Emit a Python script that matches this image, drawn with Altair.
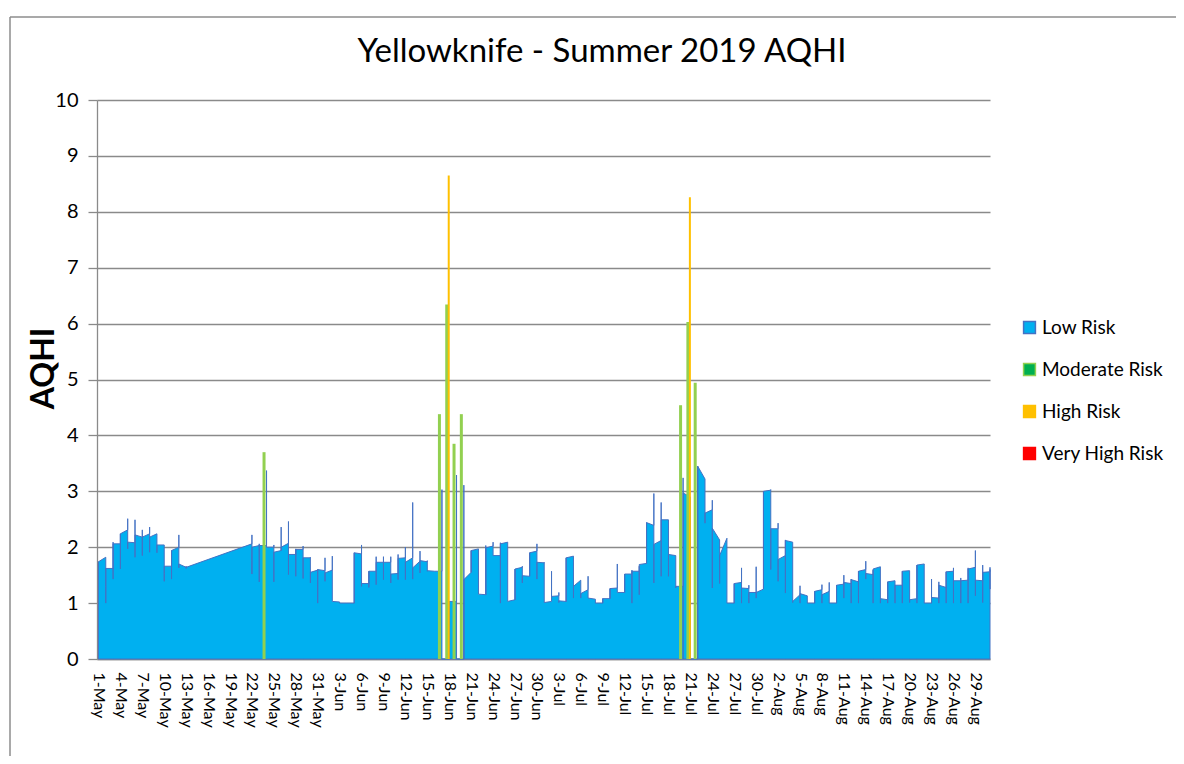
import json
import pandas as pd
import altair as alt

# ---------------- data ----------------
# x axis tick labels (every 3rd day, day 0 = 1-May-2019)
tick_labels = ["1-May", "4-May", "7-May", "10-May", "13-May", "16-May", "19-May", "22-May",
               "25-May", "28-May", "31-May", "3-Jun", "6-Jun", "9-Jun", "12-Jun", "15-Jun",
               "18-Jun", "21-Jun", "24-Jun", "27-Jun", "30-Jun", "3-Jul", "6-Jul", "9-Jul",
               "12-Jul", "15-Jul", "18-Jul", "21-Jul", "24-Jul", "27-Jul", "30-Jul", "2-Aug",
               "5-Aug", "8-Aug", "11-Aug", "14-Aug", "17-Aug", "20-Aug", "23-Aug", "26-Aug",
               "29-Aug"]
tick_days = [3 * i for i in range(len(tick_labels))]

# Low Risk series: per day (1-May .. 31-Aug) first / highest / lowest / last hourly value
N = None
low_first = [1.74, 1.82, 1.62, 2.06, 2.31, 2.08, 2.18, 2.24, 2.24, 2.04, 1.66, 2.00, 1.64,
             N, N, N, N, N, N, N, N,
             2.06, 2.03, 2.03, 2.00, 1.94, 2.07, 1.87, 1.96, 1.81, 1.59, 1.58, 1.59, 1.02,
             1.00, 1.00, 1.88, 1.35, 1.57, 1.73, 1.73, 1.53, 1.81, 1.81, 1.75, 1.74, 1.57,
             1.57, 0.00, 1.03, 0.00, 1.55, 1.97, 1.15, 2.02, 1.85, 2.09, 1.06, 1.64, 1.48,
             1.93, 1.72, 1.03, 1.13, 1.03, 1.84, 1.41, 1.24, 1.07, 1.00, 1.08, 1.27, 1.19,
             1.52, 1.57, 1.71, 2.39, 2.12, 2.49, 1.85, 1.30, 2.90, 0.00, 3.22, 2.67, 2.13,
             2.16, 1.00, 1.37, 1.26, 1.19, 1.25, 3.02, 2.33, 1.85, 2.09, 1.15, 1.13, 1.00,
             1.24, 1.21, 1.00, 1.34, 1.35, 1.38, 1.60, 1.51, 1.65, 1.06, 1.40, 1.32, 1.58,
             1.08, 1.70, 1.00, 1.09, 1.28, 1.57, 1.40, 1.41, 1.64, 1.40, 1.56]
low_high = [1.74, 1.82, 2.09, 2.24, 2.51, 2.49, 2.31, 2.36, 2.24, 2.04, 1.94, 2.22, 1.66,
            N, N, N, N, N, N, N, N,
            2.22, 2.06, 3.37, 2.04, 2.36, 2.46, 1.97, 2.02, 1.82, 1.60, 1.81, 1.84, 1.02,
            1.00, 1.90, 2.04, 1.57, 1.83, 1.83, 1.83, 1.87, 2.00, 2.80, 1.93, 1.76, 1.57,
            3.03, 1.03, 3.29, 3.11, 1.94, 1.97, 2.03, 2.09, 2.08, 2.09, 1.61, 1.66, 1.90,
            2.06, 1.73, 1.57, 1.19, 1.81, 1.84, 1.41, 1.48, 1.07, 1.08, 1.26, 1.70, 1.52,
            1.59, 1.66, 2.44, 2.96, 2.80, 2.49, 1.85, 3.24, 2.90, 3.45, 3.22, 2.84, 2.13,
            2.16, 1.35, 1.63, 1.32, 1.65, 3.00, 3.03, 2.43, 2.13, 2.09, 1.31, 1.13, 1.21,
            1.33, 1.37, 1.32, 1.50, 1.43, 1.57, 1.75, 1.59, 1.65, 1.38, 1.40, 1.57, 1.58,
            1.68, 1.70, 1.43, 1.38, 1.56, 1.63, 1.45, 1.63, 1.94, 1.68, 1.64]
low_low = [1.42, 1.00, 1.43, 1.61, 1.97, 1.82, 1.85, 1.91, 1.90, 1.39, 1.43, 1.63, 1.62,
           N, N, N, N, N, N, N, N,
           1.52, 1.38, 2.00, 1.38, 1.94, 1.51, 1.48, 1.44, 1.36, 1.00, 1.39, 1.03, 1.00,
           1.00, 1.00, 1.30, 1.28, 1.33, 1.42, 1.36, 1.42, 1.42, 1.43, 1.54, 1.57, 1.57,
           0.00, 0.00, 0.00, 0.00, 1.55, 1.16, 1.15, 1.85, 1.00, 1.03, 1.06, 1.36, 1.48,
           1.43, 1.01, 1.06, 1.01, 1.03, 1.09, 1.09, 1.09, 1.00, 1.00, 1.08, 1.19, 1.19,
           1.00, 1.15, 1.71, 1.36, 1.48, 1.48, 1.27, 0.00, 0.00, 0.00, 2.43, 1.27, 1.35,
           1.00, 1.00, 1.00, 1.00, 1.09, 1.25, 1.60, 1.39, 1.18, 1.01, 1.00, 1.00, 1.00,
           1.00, 1.00, 1.00, 1.09, 1.00, 1.00, 1.43, 1.00, 1.00, 1.00, 1.00, 1.00, 1.01,
           1.00, 1.00, 1.00, 1.00, 1.00, 1.00, 1.00, 1.00, 1.13, 1.01, 1.25]
low_last = [1.74, 1.62, 2.06, 2.24, 2.09, 2.22, 2.18, 2.18, 2.04, 1.66, 1.94, 1.70, 1.64,
            N, N, N, N, N, N, N, N,
            2.00, 2.03, 2.00, 1.91, 2.00, 1.87, 1.96, 1.81, 1.55, 1.60, 1.54, 1.03, 1.00,
            1.00, 1.90, 1.35, 1.57, 1.73, 1.73, 1.52, 1.80, 1.73, 1.63, 1.76, 1.58, 1.57,
            0.00, 1.03, 0.00, 1.42, 1.94, 1.16, 1.99, 1.85, 2.06, 1.03, 1.61, 1.49, 1.90,
            1.73, 1.01, 1.12, 1.04, 1.81, 1.30, 1.17, 1.09, 1.00, 1.08, 1.26, 1.19, 1.52,
            1.57, 1.69, 2.44, 2.05, 2.49, 1.87, 1.30, 2.97, 0.00, 3.45, 2.61, 2.34, 1.85,
            1.00, 1.35, 1.27, 1.19, 1.19, 3.00, 2.33, 1.78, 2.12, 1.03, 1.17, 1.00, 1.21,
            1.15, 1.00, 1.32, 1.37, 1.42, 1.57, 1.53, 1.61, 1.08, 1.38, 1.32, 1.57, 1.06,
            1.68, 1.00, 1.10, 1.32, 1.56, 1.40, 1.40, 1.61, 1.41, 1.55, 1.60]

# Moderate / High risk hours (day index, AQHI)
moderate_days = [23, 47, 48, 49, 50, 80, 81, 82]
moderate_vals = [3.70, 4.38, 6.34, 3.85, 4.38, 4.54, 6.03, 4.94]
high_days = [48, 81]
high_vals = [8.65, 8.26]

risk_levels = ["Low Risk", "Moderate Risk", "High Risk", "Very High Risk"]
risk_fill = ["#00B0F0", "#00B050", "#FFC000", "#FF0000"]
risk_edge = ["#4472C4", "#92D050", "#FFC000", "#FF0000"]

chart_title = "Yellowknife - Summer 2019 AQHI"

# ---------------- tables ----------------
# the hourly readings of one day all sit on that day's date; a tiny
# in-day step keeps them in reading order (first, high, low, last)
STEP = 0.0005
rows = []
for d in range(len(low_first)):
    if low_first[d] is None:
        continue
    for k, v in enumerate((low_first[d], low_high[d], low_low[d], low_last[d])):
        rows.append({"day": d + k * STEP, "aqhi": v})
low_df = pd.DataFrame(rows)
mod_df = pd.DataFrame({"day": moderate_days, "aqhi": moderate_vals})
high_df = pd.DataFrame({"day": high_days, "aqhi": high_vals})

GRID = "#8A8A8A"
label_expr = json.dumps(tick_labels) + "[round(datum.value / 3)]"

x_scale = alt.Scale(domain=[-0.2, 122], nice=False, zero=False)
x_axis = alt.Axis(values=tick_days, labelExpr=label_expr, labelAngle=90,
                  labelAlign="left", labelBaseline="middle", labelPadding=13,
                  labelFontSize=16, labelFont="Lato", labelColor="#000000",
                  labelOverlap=False, labelBound=False, labelFlush=False,
                  labelSeparation=0,
                  ticks=False, grid=False, domainColor=GRID, domainWidth=1.3,
                  title=None)
x_enc = alt.X("day:Q", scale=x_scale, axis=x_axis)
y_scale = alt.Scale(domain=[0, 10], nice=False)
y_axis = alt.Axis(values=list(range(11)), format="d", title="AQHI",
                  titleFont="Lato", titleFontSize=32, titleFontWeight="bold",
                  titleColor="#000000", titleAngle=-90, titleAlign="center",
                  titleBaseline="alphabetic", titleX=-44, titleY=268,
                  labelFont="Lato", labelFontSize=20, labelColor="#000000",
                  labelPadding=10, tickSize=9, tickColor=GRID, tickWidth=1.3,
                  domainColor=GRID, domainWidth=1.3,
                  grid=True, gridColor=GRID, gridWidth=1.3)
y_enc = alt.Y("aqhi:Q", stack=None, scale=y_scale, axis=y_axis)

area = alt.Chart(low_df).mark_area(fill="#00B0F0", stroke="#4472C4", strokeWidth=1,
                                   opacity=1, fillOpacity=1).encode(x=x_enc, y=y_enc)

moderate = alt.Chart(mod_df).mark_rule(color="#92D050", strokeWidth=3, xOffset=-2.5).encode(
    x=x_enc, y=y_enc, y2=alt.datum(0))

high = alt.Chart(high_df).mark_rule(color="#FFC000", strokeWidth=2, xOffset=-0.5).encode(
    x=x_enc, y=y_enc, y2=alt.datum(0))

leg = alt.Legend(title=None, orient="none", legendX=923, legendY=218, symbolType="square",
                 symbolSize=140, symbolStrokeWidth=1.5, labelFont="Lato", labelFontSize=19,
                 labelColor="#000000", rowPadding=22, labelOffset=3, padding=0)
legend_layer = alt.Chart(pd.DataFrame({"risk": risk_levels})).transform_filter("false").mark_square(
    size=140, filled=True, opacity=1, strokeWidth=1.5).encode(
    fill=alt.Fill("risk:N", scale=alt.Scale(domain=risk_levels, range=risk_fill), legend=leg),
    stroke=alt.Stroke("risk:N", scale=alt.Scale(domain=risk_levels, range=risk_edge), legend=leg))

frame_df = pd.DataFrame({"k": [0]})
frame_left = alt.Chart(frame_df).mark_rule(color="#8C8C8C", strokeWidth=1.5).encode(
    x=alt.value(-87), y=alt.value(-83), y2=alt.value(700))
frame_top = alt.Chart(frame_df).mark_rule(color="#8C8C8C", strokeWidth=1.5).encode(
    x=alt.value(-87), x2=alt.value(1100), y=alt.value(-83))

title_text = alt.Chart(pd.DataFrame({"t": [chart_title]})).mark_text(
    font="Lato", fontSize=33, color="#000000", align="center", baseline="alphabetic").encode(
    text="t:N", x=alt.value(505), y=alt.value(-38))

chart = alt.layer(area, moderate, high, legend_layer, frame_left, frame_top, title_text).properties(
    width=893, height=559,
    autosize=alt.AutoSizeParams(type="none"),
    padding={"left": 89, "top": 92, "right": 186, "bottom": 97},
    background="#FFFFFF",
).configure_view(strokeWidth=0)

chart.save("out.html", embed_options={"renderer": "svg", "actions": False})
